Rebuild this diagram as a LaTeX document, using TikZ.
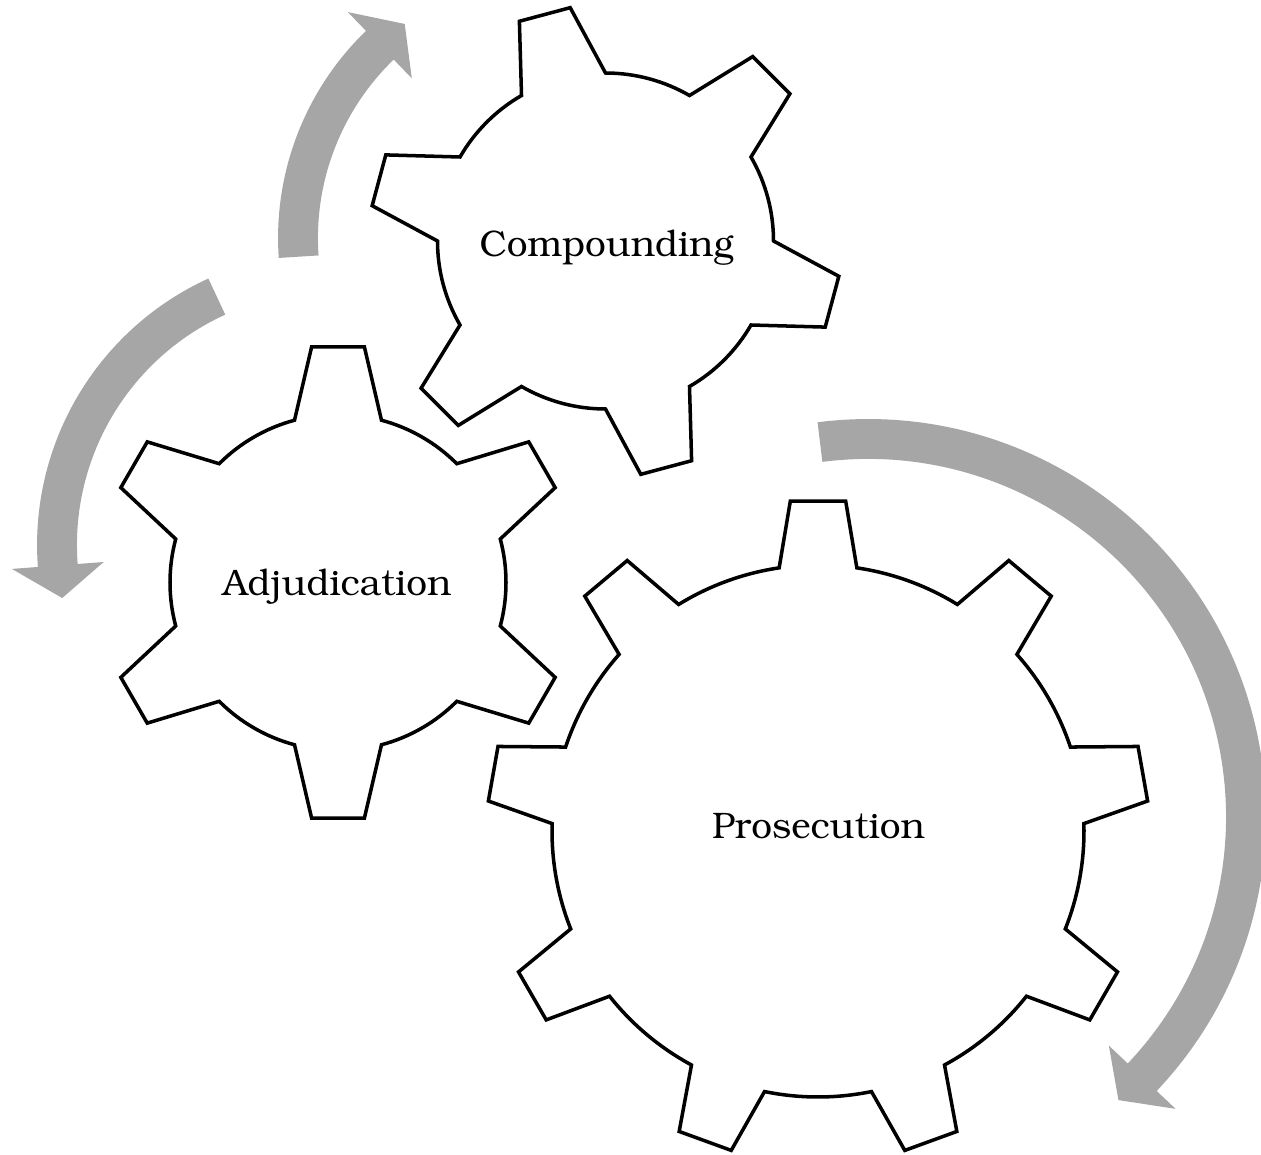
\documentclass[tikz,border=0pt]{standalone}
\usepackage[T1]{fontenc}
\usepackage{bookman}
\definecolor{arrowgray}{RGB}{166,166,166}

\begin{document}
\begin{tikzpicture}[x=0.02cm,y=0.02cm,
  gear/.style={draw,line width=2pt,fill=white,line join=miter},
  cyclearrow/.style={draw=arrowgray,line width=22.7pt},
  arrowhead/.style={fill=arrowgray},
  gearname/.style={font=\fontsize{21}{25}\selectfont,anchor=base}]
\useasboundingbox (0,0) rectangle (1261,-1155);

\draw[cyclearrow,shift={(566,-238)}] (184:268) arc[start angle=184,end angle=133.5,radius=268];
\fill[arrowhead,shift={(566,-238)}] (134:222) -- (127:268) -- (134:314) -- cycle;

\draw[cyclearrow,shift={(330,-545)}] (114.5:273) arc[start angle=114.5,end angle=184.8,radius=273];
\fill[arrowhead,shift={(330,-545)}] (184.3:227) -- (191.2:273) -- (184.3:319) -- cycle;

\draw[cyclearrow,shift={(868,-817)}] (97.3:378) arc[start angle=97.3,end angle=-44,radius=378];
\fill[arrowhead,shift={(868,-817)}] (-43.5:332) -- (-48.5:378) -- (-43.5:424) -- cycle;

\draw[gear,shift={(605.5,-241)}] (90:168)
  \foreach \a in {105,165,...,405} {
    -- ({\a-6.4}:236) -- ({\a+6.4}:236) -- ({\a+15}:168)
    arc[start angle=\a+15,end angle=\a+45,radius=168]
  } -- cycle;

\draw[gear,shift={(338,-582.5)}] (75:168)
  \foreach \a in {90,150,...,390} {
    -- ({\a-6.4}:237) -- ({\a+6.4}:237) -- ({\a+15}:168)
    arc[start angle=\a+15,end angle=\a+45,radius=168]
  } -- cycle;

\draw[gear,shift={(818,-831)}] (81.6:266)
  \foreach \a in {90,130,...,410} {
    -- ({\a-4.8}:331) -- ({\a+4.8}:331) -- ({\a+8.4}:266)
    arc[start angle=\a+8.4,end angle=\a+31.6,radius=266]
  } -- cycle;

\node[gearname] (comp) at (606.5,-257) {Compounding};
\node[gearname] (adju) at (337,-595) {Adjudication};
\node[gearname] (pros) at (818.5,-838) {Prosecution};
\end{tikzpicture}
\end{document}
